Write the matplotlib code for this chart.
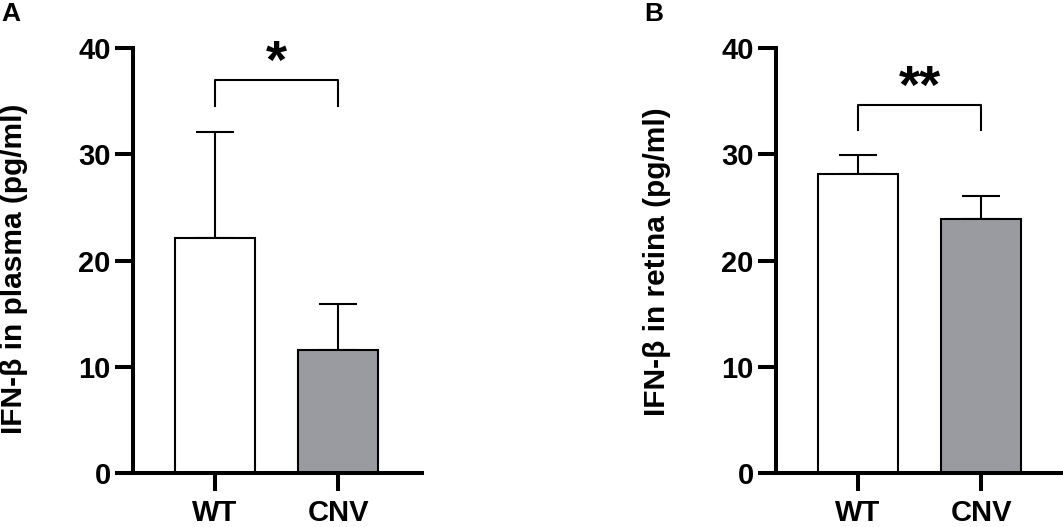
import numpy as np
import matplotlib
matplotlib.use("Agg")
from matplotlib import pyplot as plt

plt.rcParams['font.family'] = ['Liberation Sans', 'DejaVu Sans']
plt.rcParams['font.weight'] = 'bold'

groups = ["WT", "CNV"]
plasma_mean = [22.1, 11.6]
plasma_sd = [10.0, 4.3]
retina_mean = [28.1, 23.9]
retina_sd = [1.8, 2.2]
bar_colors = ["white", "#999ba1"]

# letter, ylabel, means, sds, stars, bracket y, leg bottom y, star baseline y
panels = [
    ("A", "IFN-β in plasma (pg/ml)", plasma_mean, plasma_sd, "*", 37.0, 34.5, 37.2),
    ("B", "IFN-β in retina (pg/ml)", retina_mean, retina_sd, "**", 34.6, 32.3, 34.8),
]

fig = plt.figure(figsize=(10.63, 5.27), dpi=100)
lefts = [133 / 1063, 776 / 1063]
label_y = [1 - 269 / 527, 1 - 262 / 527]
w = 289 / 1063
for (letter, ylab, means, sds, stars, bry, legy, stary), left, ly in zip(panels, lefts, label_y):
    ax = fig.add_axes([left, 1 - 473 / 527, w, 425 / 527])
    x = np.arange(len(groups))
    ax.bar(x, means, width=0.65, color=bar_colors, edgecolor="black", linewidth=1.5, zorder=2)
    ax.errorbar(x, means, yerr=[np.zeros(len(sds)), sds], fmt="none", ecolor="black",
                elinewidth=1.5, capsize=14, capthick=1.5, zorder=1)
    ax.plot([0, 0, 1, 1], [legy, bry, bry, legy], color="black", linewidth=1.5, clip_on=False)
    ax.text(0.5, stary, stars, ha="center", va="baseline", fontsize=39, fontweight="bold")
    ax.set_ylim(0, 40)
    ax.set_xlim(-0.667, 1.683)
    ax.set_yticks([0, 10, 20, 30, 40])
    ax.set_xticks(x)
    ax.set_xticklabels(groups)
    ax.spines["top"].set_visible(False)
    ax.spines["right"].set_visible(False)
    ax.spines["left"].set_linewidth(2.9)
    ax.spines["bottom"].set_linewidth(2.9)
    ax.tick_params(axis="both", width=2.9, length=13, labelsize=21)
    ax.tick_params(axis="y", pad=3)
    ax.tick_params(axis="x", pad=6)
    fig.text(left - 119 / 1063, ly, ylab, rotation=90, ha="center", va="center",
             fontsize=21.5, fontweight="bold")
    fig.text(left - 133 / 1063 + 1 / 1063, 1 - 2 / 527, letter, ha="left", va="top",
             fontsize=19, fontweight="bold")

plt.savefig("out.png", dpi=100)
